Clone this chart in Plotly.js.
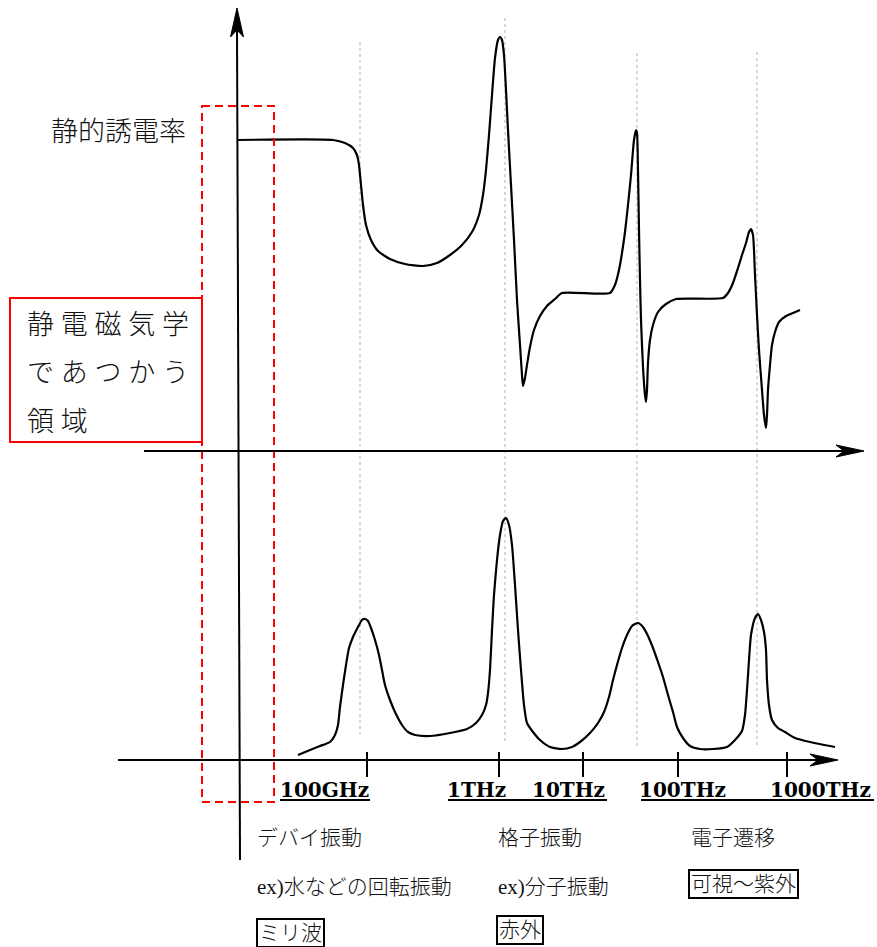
<!DOCTYPE html>
<html>
<head>
<meta charset="utf-8">
<script src="https://cdn.plot.ly/plotly-3.0.1.min.js"></script>
<style>html,body{margin:0;padding:0;background:#fff;}#chart{width:877px;height:947px;}</style>
</head>
<body>
<div id="chart"></div>
<script>
// ---- data (diagram units: x = horizontal position along frequency axis, y = height above each baseline) ----
// real part of permittivity (upper curve)
const realX = [237,333,345,353,357,359,361,363,366,371,378,390,405,423,437,450,462,472,479,483,486,489,492,495,498,500,502,504,506,508,511,514,517,520,522,523,525,527,530,534,540,547,555,562,610,615,619,622,625,628,631,634,636,637,638,639,640,641,643,645,646,647,648,650,653,658,666,676,723,728,733,738,742,746,749,751,753,755,757,759,762,764,766,767,768,770,772,775,779,786,793,800];
const realY = [311,311,308,303,296,286,266,246,226,211,200,192,187,185,188,196,206,219,236,256,281,316,356,393,411,414,411,396,361,321,266,211,151,106,76,65,73,86,104,121,135,145,152,158,158,166,181,198,219,246,276,311,321,318,281,221,171,131,84,56,49,61,88,111,126,139,147,152,153,158,168,183,196,208,219,222,216,176,136,101,61,36,23,36,61,86,106,119,129,135,138,141];
// imaginary part of permittivity (lower curve)
const imagX = [298,310,320,330,335,338,340,343,346,349,353,358,362,365,368,371,375,379,382,385,390,395,402,408,415,430,450,467,476,482,486,488,490,492,494,497,500,503,506,509,512,515,518,521,524,527,533,540,550,562,572,580,590,598,604,609,613,617,622,627,632,638,643,648,653,658,663,668,673,677,683,690,700,713,727,735,742,745,747,749,751,755,758,761,764,766,767,769,772,778,785,795,810,835];
const imagY = [5,10,14,18,25,35,53,75,95,112,123,133,140,141,139,132,120,105,90,75,60,48,35,28,25,24,27,31,37,45,55,67,90,130,165,200,225,239,242,235,215,175,130,90,55,37,28,20,13,11,13,18,27,37,48,63,80,95,112,125,134,137,133,124,112,98,83,65,48,33,22,14,11,11,13,20,29,45,70,100,125,142,146,140,128,110,80,55,40,32,28,22,18,13];
// frequency axis ticks
const tickX = [367,499,583,678,787];
const tickLabels = ["100GHz","1THz","10THz","100THz","1000THz"];
// resonance positions (dotted guides)
const resonanceX = [360,505,637,757];

// ---- drawing ----
const W = 877, H = 947;
const X = v => v / W;
const Y = v => 1 - v / H;
const pt = (x, y) => X(x).toFixed(5) + ',' + Y(y).toFixed(5);

const shapes = [];
const line = (x0, y0, x1, y1, opt) => shapes.push(Object.assign({
  type: 'line', xref: 'paper', yref: 'paper', x0: X(x0), y0: Y(y0), x1: X(x1), y1: Y(y1),
  line: {color: 'black', width: 2}, layer: 'above'
}, opt || {}));

// dotted resonance guides
const guideTop = [42, 18, 53, 52], guideBot = [738, 743, 748, 747];
resonanceX.forEach((x, i) => line(x, guideTop[i], x, guideBot[i], {line: {color: '#b0b0b0', width: 1, dash: 'dot'}, layer: 'below'}));

// red dashed region & red box
shapes.push({type: 'rect', xref: 'paper', yref: 'paper', x0: X(202), x1: X(274), y0: Y(106), y1: Y(802),
  line: {color: 'red', width: 2, dash: '8px,5px'}, layer: 'above'});
shapes.push({type: 'rect', xref: 'paper', yref: 'paper', x0: X(10), x1: X(202), y0: Y(298), y1: Y(442),
  line: {color: 'red', width: 2}, layer: 'above'});

// axes
line(237, 28, 240, 860);
line(144, 451, 848, 451);
line(118, 760, 822, 760);
const arrow = p => shapes.push({type: 'path', xref: 'paper', yref: 'paper',
  path: 'M' + p.map(q => pt(q[0], q[1])).join(' L') + ' Z', fillcolor: 'black', line: {color: 'black', width: 1}, layer: 'above'});
arrow([[237, 8], [243.5, 37], [237, 30], [230.5, 37]]);
arrow([[864, 451], [836, 445], [844, 451], [836, 457]]);
arrow([[838, 760], [810, 754], [818, 760], [810, 766]]);

// ticks
tickX.forEach(x => line(x, 752, x, 777));
// underlines of tick labels
line(280, 800, 370, 800);
line(448, 800, 607, 800);
line(641, 800, 874, 800);

const jpFont = 'Liberation Serif, Noto Sans CJK JP, sans-serif';
const ann = [];
const text = (t, x, y, size, opt) => ann.push(Object.assign({
  text: t, xref: 'paper', yref: 'paper', x: X(x), y: Y(y), xanchor: 'left', yanchor: 'middle',
  showarrow: false, font: {family: jpFont, size: size, color: '#111', weight: 300}
}, opt || {}));

const labelRight = [371, 508, 607, 728, 873];
tickLabels.forEach((t, i) => text('<b>' + t + '</b>', labelRight[i], 790, 20,
  {xanchor: 'right', font: {family: 'DejaVu Serif, serif', size: 20, color: '#000'}}));

text('静的誘電率', 49, 132, 27);
text('静 電 磁 気 学', 25, 325, 27);
text('で あ つ か う', 25, 373, 27);
text('領 域', 25, 422, 27);

text('デバイ振動', 255, 838, 21);
text('ex)水などの回転振動', 255, 887, 21);
text('格子振動', 496, 838, 21);
text('ex)分子振動', 496, 887, 21);
text('電子遷移', 689, 838, 21);
const boxed = {bordercolor: 'black', borderwidth: 2, borderpad: 1, yanchor: 'top'};
text('ミリ波', 256, 918, 21, boxed);
text('赤外', 496, 915, 21, boxed);
text('可視〜紫外', 688, 869, 21, boxed);

const traces = [
  {x: realX, y: realY, type: 'scatter', mode: 'lines', yaxis: 'y',
   line: {color: 'black', width: 2.2, shape: 'spline', smoothing: 0.6}, hoverinfo: 'skip'},
  {x: imagX, y: imagY, type: 'scatter', mode: 'lines', yaxis: 'y2',
   line: {color: 'black', width: 2.2, shape: 'spline', smoothing: 0.6}, hoverinfo: 'skip'}
];

const layout = {
  width: W, height: H, margin: {l: 0, r: 0, t: 0, b: 0, pad: 0},
  paper_bgcolor: 'white', plot_bgcolor: 'white', showlegend: false,
  xaxis: {range: [0, W], visible: false, fixedrange: true},
  yaxis: {range: [451 - H, 451], visible: false, fixedrange: true},
  yaxis2: {range: [760 - H, 760], visible: false, overlaying: 'y', fixedrange: true},
  shapes: shapes, annotations: ann
};

Plotly.newPlot('chart', traces, layout, {staticPlot: true, displayModeBar: false});
</script>
</body>
</html>
